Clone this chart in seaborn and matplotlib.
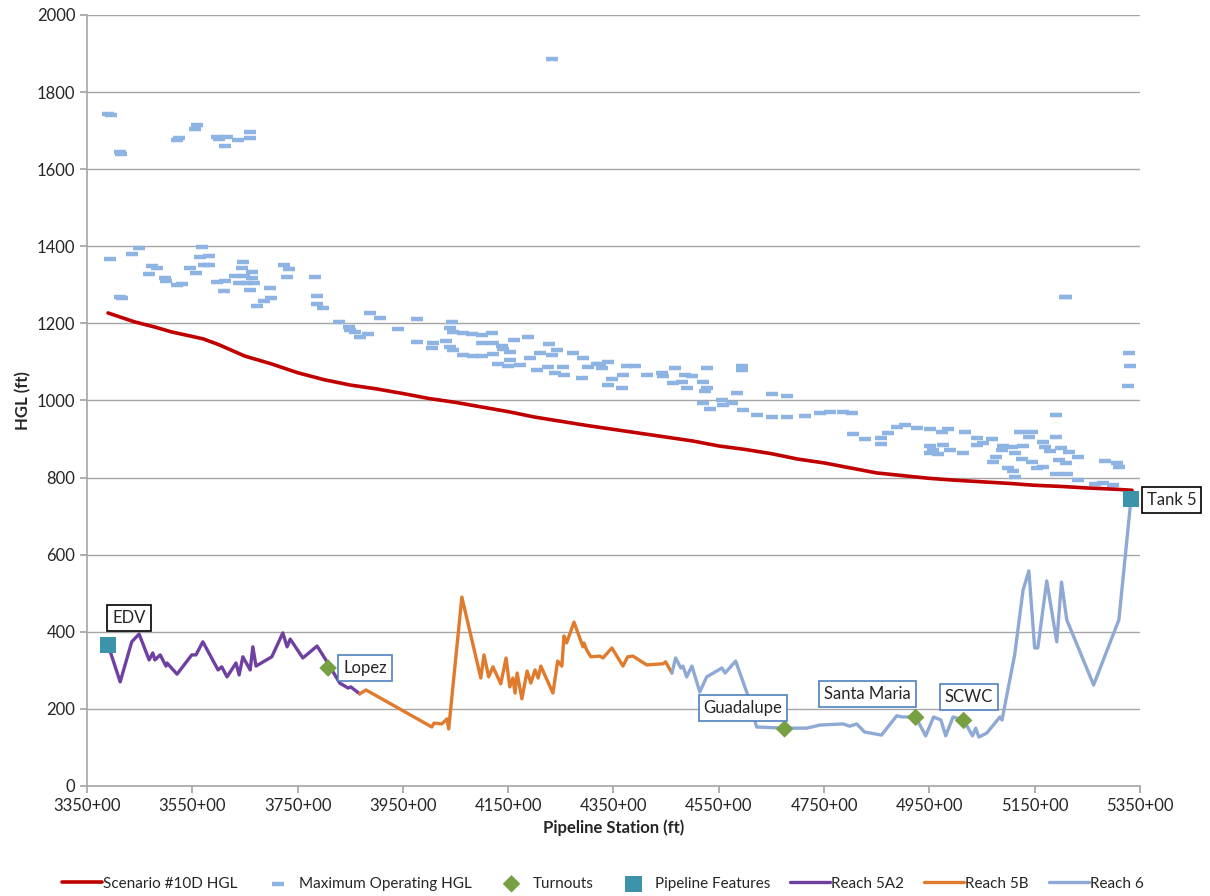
import matplotlib
matplotlib.use("Agg")
import matplotlib.pyplot as plt
import seaborn as sns
from matplotlib.ticker import FuncFormatter, MultipleLocator

# ~~~ Data (station in 100 ft, HGL in ft) ~~~
hgl_station = [3390, 3440, 3480, 3510, 3570, 3600, 3650, 3700, 3750, 3800,
               3850, 3900, 3950, 4000, 4050, 4100, 4150, 4200, 4250, 4300,
               4350, 4400, 4450, 4500, 4550, 4600, 4650, 4700, 4750, 4800,
               4850, 4900, 4950, 5000, 5050, 5100, 5150, 5200, 5250, 5300, 5335]
hgl_value = [1227, 1204, 1190, 1178, 1160, 1145, 1115, 1095, 1072, 1054,
             1040, 1030, 1018, 1005, 995, 983, 971, 957, 946, 935,
             925, 915, 905, 895, 882, 873, 862, 848, 838, 825,
             812, 805, 798, 793, 789, 785, 780, 777, 773, 770, 767]

mop_station = [3390, 3396, 3394, 3413, 3415, 3413, 3416, 3435, 3449, 3468,
               3473, 3483, 3498, 3500, 3521, 3525, 3521, 3530, 3546, 3555,
               3558, 3557, 3565, 3568, 3572, 3582, 3582, 3597, 3600, 3597,
               3612, 3610, 3612, 3616, 3631, 3637, 3639, 3644, 3646, 3648,
               3654, 3660, 3660, 3660, 3663, 3663, 3667, 3673, 3686, 3697,
               3699, 3724, 3730, 3733, 3783, 3787, 3787, 3798, 3829, 3848,
               3850, 3859, 3868, 3884, 3887, 3906, 3941, 3977, 3977, 4005,
               4007, 4032, 4043, 4039, 4045, 4064, 4081, 4100, 4119, 4039,
               4045, 4064, 4083, 4100, 4121, 4100, 4121, 4138, 4140, 4153,
               4162, 4187, 4153, 4130, 4149, 4172, 4191, 4210, 4205, 4227,
               4242, 4233, 4225, 4233, 4239, 4256, 4254, 4273, 4292, 4290,
               4301, 4318, 4324, 4339, 4328, 4347, 4339, 4366, 4368, 4375,
               4391, 4413, 4442, 4444, 4466, 4463, 4480, 4486, 4499, 4489,
               4527, 4520, 4527, 4524, 4594, 4594, 4584, 4520, 4556, 4558,
               4575, 4533, 4596, 4622, 4651, 4679, 4713, 4742, 4761, 4786,
               4803, 4651, 4679, 4805, 4827, 4859, 4859, 4871, 4888, 4903,
               4926, 4951, 4974, 4985, 5017, 5040, 5069, 4951, 4957, 4976,
               4989, 5014, 4951, 4966, 5040, 5052, 5090, 5107, 5128, 5088,
               5112, 5076, 5071, 5099, 5109, 5112, 5126, 5145, 5154, 5165,
               5122, 5145, 5139, 5165, 5169, 5179, 5191, 5191, 5200, 5216,
               5197, 5210, 5232, 5191, 5212, 5232, 5264, 5279, 5298, 5283,
               5306, 5311, 5330, 5332, 5327, 5207, 5210]
mop_value = [1743, 1740, 1367, 1645, 1640, 1269, 1265, 1380, 1396, 1328,
             1349, 1344, 1318, 1310, 1676, 1680, 1300, 1302, 1344, 1705,
             1715, 1331, 1372, 1398, 1351, 1375, 1351, 1684, 1678, 1307,
             1310, 1284, 1660, 1684, 1323, 1676, 1305, 1344, 1359, 1323,
             1305, 1681, 1697, 1287, 1333, 1318, 1305, 1245, 1258, 1292,
             1266, 1351, 1320, 1341, 1320, 1271, 1250, 1240, 1204, 1191,
             1183, 1178, 1165, 1172, 1227, 1214, 1185, 1211, 1152, 1136,
             1149, 1154, 1204, 1188, 1178, 1175, 1172, 1170, 1175, 1139,
             1131, 1118, 1115, 1115, 1121, 1149, 1149, 1141, 1134, 1126,
             1157, 1165, 1105, 1095, 1090, 1092, 1110, 1123, 1079, 1147,
             1131, 1118, 1087, 1886, 1071, 1066, 1087, 1123, 1110, 1058,
             1087, 1095, 1095, 1100, 1084, 1056, 1040, 1032, 1066, 1089,
             1089, 1066, 1071, 1063, 1084, 1045, 1048, 1066, 1063, 1032,
             1084, 1048, 1032, 1025, 1089, 1080, 1019, 994, 1001, 988,
             994, 978, 975, 962, 957, 957, 960, 968, 970, 970,
             968, 1017, 1012, 913, 900, 903, 887, 916, 931, 936,
             929, 926, 918, 926, 918, 903, 900, 882, 872, 885,
             872, 864, 864, 861, 885, 890, 882, 879, 882, 872,
             864, 853, 840, 825, 817, 802, 848, 840, 825, 827,
             918, 918, 905, 893, 879, 869, 905, 962, 877, 866,
             846, 838, 853, 809, 809, 794, 783, 786, 781, 843,
             838, 827, 1123, 1089, 1038, 1268, 1268]

turnout_names = ["Lopez", "Guadalupe", "Santa Maria", "SCWC"]
turnout_station = [3808, 4675, 4924, 5015]
turnout_value = [306, 148, 178, 170]

feature_names = ["EDV", "Tank 5"]
feature_station = [3390, 5333]
feature_value = [366, 745]

reach5a2_station = [3390, 3413, 3435, 3449, 3468, 3475, 3479, 3489, 3500, 3502,
                    3521, 3549, 3557, 3570, 3599, 3606, 3616, 3633, 3639, 3646,
                    3660, 3665, 3671, 3701, 3722, 3730, 3736, 3760, 3787, 3806,
                    3830, 3846, 3851, 3868]
reach5a2_value = [366, 270, 374, 394, 327, 345, 327, 340, 311, 319,
                  290, 340, 340, 374, 301, 309, 283, 319, 288, 335,
                  301, 361, 311, 335, 397, 361, 381, 332, 363, 322,
                  267, 254, 257, 239]

reach5b_station = [3868, 3880, 4005, 4009, 4024, 4034, 4037, 4062, 4098, 4104,
                   4113, 4121, 4136, 4146, 4153, 4159, 4163, 4167, 4176, 4186,
                   4193, 4201, 4207, 4212, 4235, 4244, 4252, 4256, 4261, 4275,
                   4292, 4294, 4299, 4307, 4324, 4330, 4347, 4368, 4377, 4387,
                   4413, 4444, 4449, 4461]
reach5b_value = [239, 249, 153, 163, 161, 174, 148, 490, 280, 340,
                 283, 309, 265, 332, 257, 280, 241, 293, 226, 298,
                 267, 301, 280, 311, 241, 324, 311, 389, 371, 425,
                 361, 371, 353, 335, 337, 332, 358, 311, 335, 337,
                 314, 317, 322, 293]

reach6_station = [4461, 4468, 4478, 4482, 4489, 4499, 4514, 4527, 4556, 4562,
                  4582, 4603, 4622, 4675, 4717, 4742, 4786, 4799, 4812, 4827,
                  4859, 4888, 4899, 4924, 4943, 4958, 4972, 4981, 4995, 5015,
                  5032, 5038, 5044, 5059, 5084, 5088, 5112, 5128, 5139, 5150,
                  5156, 5173, 5192, 5201, 5211, 5262, 5310, 5333]
reach6_value = [293, 332, 306, 311, 283, 311, 244, 283, 306, 293,
                324, 244, 153, 150, 150, 158, 161, 155, 161, 140,
                132, 182, 179, 179, 130, 179, 171, 130, 179, 171,
                130, 150, 127, 137, 179, 171, 340, 508, 558, 358,
                358, 532, 374, 529, 431, 262, 431, 745]

station_ticks = list(range(3350, 5351, 200))

# ~~~ Style ~~~
sns.set_theme(style="white")
plt.rcParams["font.family"] = ["Lato", "DejaVu Sans"]

fig = plt.figure(figsize=(12.1, 8.96), dpi=100)
ax = fig.add_axes([0.0719, 0.1228, 0.8702, 0.8605])

sns.lineplot(x=hgl_station, y=hgl_value, color="#C00000", linewidth=2.6,
             label="Scenario #10D HGL", sort=False, estimator=None, ax=ax, zorder=4)
sns.scatterplot(x=mop_station, y=mop_value, marker="_", s=70, linewidth=3.2,
                color="#8DB4E2", label="Maximum Operating HGL", ax=ax, zorder=3)
sns.lineplot(x=reach5a2_station, y=reach5a2_value, color="#7040A0", linewidth=2.4,
             label="Reach 5A2", sort=False, estimator=None, ax=ax, zorder=4)
sns.lineplot(x=reach5b_station, y=reach5b_value, color="#E07B2E", linewidth=2.4,
             label="Reach 5B", sort=False, estimator=None, ax=ax, zorder=4)
sns.lineplot(x=reach6_station, y=reach6_value, color="#8EA9D4", linewidth=2.4,
             label="Reach 6", sort=False, estimator=None, ax=ax, zorder=4)
sns.scatterplot(x=turnout_station, y=turnout_value, marker="D", s=80,
                color="#77A043", edgecolor="none", label="Turnouts", ax=ax, zorder=6)
sns.scatterplot(x=feature_station, y=feature_value, marker="s", s=140,
                color="#3C93AA", edgecolor="none", label="Pipeline Features",
                ax=ax, zorder=6, clip_on=False)

# ~~~ Labels on points ~~~
blue_box = dict(boxstyle="square,pad=0.3", fc="white", ec="#4F81BD", lw=1.2)
black_box = dict(boxstyle="square,pad=0.3", fc="white", ec="black", lw=1.2)
label_pos = {
    "EDV": ((3430, 436), black_box),
    "Tank 5": ((5410, 742), black_box),
    "Lopez": ((3878, 306), blue_box),
    "Guadalupe": ((4596, 202), blue_box),
    "Santa Maria": ((4833, 238), blue_box),
    "SCWC": ((5025, 232), blue_box),
}
for name, ((x, y), box) in label_pos.items():
    ax.text(x, y, name, ha="center", va="center", fontsize=12,
            bbox=box, zorder=7, clip_on=False)

# ~~~ Axes ~~~
ax.set_xlim(3350, 5350)
ax.set_ylim(0, 2000)
ax.set_xticks(station_ticks)
ax.yaxis.set_major_locator(MultipleLocator(200))
ax.xaxis.set_major_formatter(FuncFormatter(lambda v, p: f"{int(v)}+00"))
ax.grid(axis="y", color="#A6A6A6", linewidth=1)
ax.grid(axis="x", visible=False)
for side in ["top", "right"]:
    ax.spines[side].set_visible(False)
for side in ["left", "bottom"]:
    ax.spines[side].set_color("#A6A6A6")
    ax.spines[side].set_linewidth(1.2)
ax.tick_params(axis="x", bottom=True, length=5, color="#A6A6A6", labelsize=12)
ax.tick_params(axis="y", left=True, length=5, color="#A6A6A6", labelsize=12)
ax.set_xlabel("Pipeline Station (ft)", fontsize=12, fontweight="bold")
ax.set_ylabel("HGL (ft)", fontsize=12, fontweight="bold")

handles, labels = ax.get_legend_handles_labels()
order = ["Scenario #10D HGL", "Maximum Operating HGL", "Turnouts",
         "Pipeline Features", "Reach 5A2", "Reach 5B", "Reach 6"]
hmap = dict(zip(labels, handles))
ax.legend([hmap[k] for k in order], order, loc="upper center",
          bbox_to_anchor=(0.49, -0.1), ncol=7, frameon=False, fontsize=11,
          handlelength=2.6, handletextpad=0.1, columnspacing=1.3)

fig.savefig("out.png", dpi=100)
